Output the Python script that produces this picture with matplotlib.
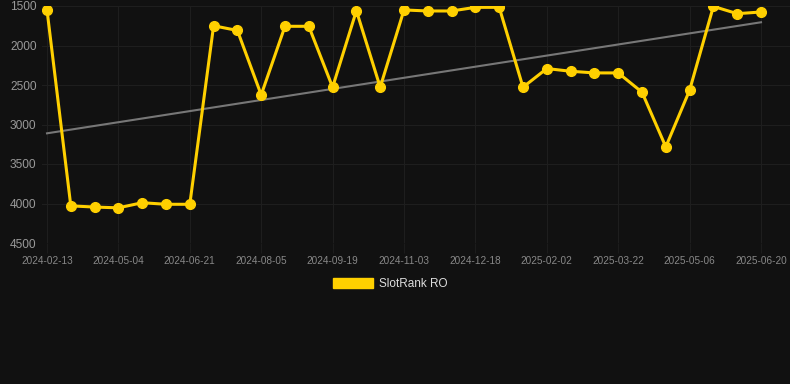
import matplotlib
matplotlib.use("Agg")
import matplotlib.pyplot as plt
from matplotlib.patches import Patch
import numpy as np

ranks = [1550, 4030, 4045, 4055, 3990, 4010, 4010, 1750, 1810, 2625, 1757, 1757,
         2528, 1560, 2528, 1550, 1563, 1563, 1517, 1517, 2528, 2292, 2326, 2347,
         2347, 2591, 3283, 2566, 1505, 1597, 1576]
tick_labels = ["2024-02-13", "2024-05-04", "2024-06-21", "2024-08-05", "2024-09-19",
               "2024-11-03", "2024-12-18", "2025-02-02", "2025-03-22", "2025-05-06",
               "2025-06-20"]
y_ticks = [1500, 2000, 2500, 3000, 3500, 4000, 4500]
series_name = "SlotRank RO"

plt.rcParams['font.family'] = ['Liberation Sans', 'DejaVu Sans']
BG = "#111111"
GOLD = "#FFD000"

fig = plt.figure(figsize=(7.9, 3.84), dpi=100, facecolor=BG)
ax = fig.add_axes([42/790, 1-243/384, 1-42/790, 237/384])
ax.set_facecolor(BG)

x = np.arange(len(ranks))
coef = np.polyfit(x, ranks, 1)
ax.plot([x[0], x[-1]], np.polyval(coef, [x[0], x[-1]]), color="#777777", lw=1.5, zorder=2)
ax.plot(x, ranks, color=GOLD, lw=2.2, marker='o', markersize=7, zorder=3)

px = 714/30
ax.set_xlim(-5/px, 30 + 29/px)
ax.set_ylim(4500, 1500)
ax.set_yticks(y_ticks)
ax.set_yticklabels([str(v) for v in y_ticks])
ax.set_xticks(np.arange(0, len(ranks), 3))
ax.set_xticklabels(tick_labels)
ax.tick_params(axis='y', colors="#999999", labelsize=8.6, length=0, pad=4)
ax.tick_params(axis='x', colors="#888888", labelsize=7.2, length=7, width=0.8, pad=2)
ax.tick_params(axis='x', color="#1c1c1c")
for lbl in ax.get_xticklabels():
    lbl.set_color("#888888")
ax.grid(True, color="#1e1e1e", lw=0.8)
ax.set_axisbelow(True)
for s in ax.spines.values():
    s.set_visible(False)

handle = Patch(facecolor=GOLD, edgecolor=GOLD)
leg = fig.legend([handle], [series_name], loc='center', bbox_to_anchor=(390/790, 1-284/384),
                 frameon=False, fontsize=8.5, handlelength=3.4, handleheight=1.0,
                 handletextpad=0.5, labelcolor="#dddddd")

fig.savefig("out.png", dpi=100, facecolor=BG)
